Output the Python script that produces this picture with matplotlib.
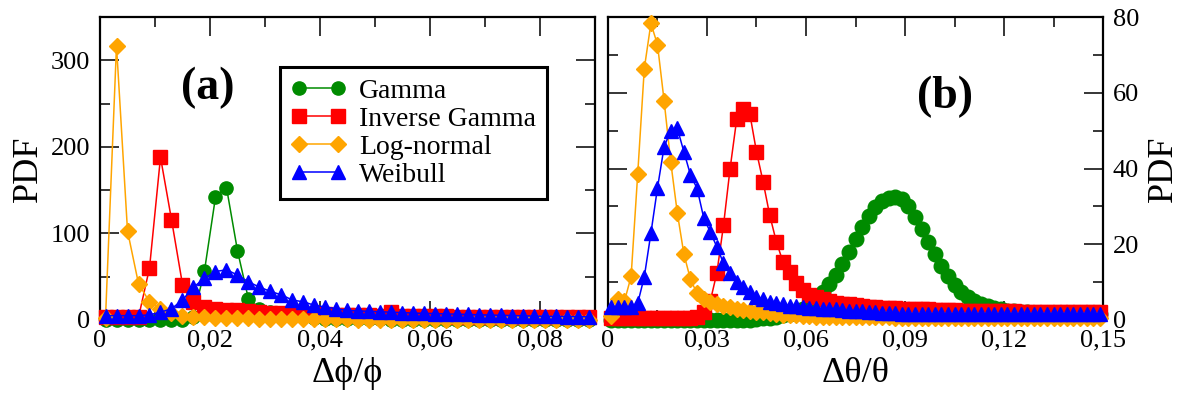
import numpy as np
import matplotlib
matplotlib.use('Agg')
import matplotlib.pyplot as plt
from matplotlib.ticker import MultipleLocator, FuncFormatter

plt.rcParams['font.family'] = ['Liberation Serif', 'DejaVu Serif']

# bin centres, bin width 0.002
x_a = np.round(np.arange(0.001, 0.090, 0.002), 4)   # 45 bins, panel (a)
x_b = np.round(np.arange(0.001, 0.150, 0.002), 4)   # 75 bins, panel (b)

labels = ['Gamma', 'Inverse Gamma', 'Log-normal', 'Weibull']

# panel (a): PDF of d(phi)/phi
gamma_a = [0, 0, 0, 0, 0, 0, 0, 0.5, 4, 57, 142, 153, 80, 24, 13, 9, 6, 4, 3, 2.2,
           1.6, 1.2, 1, 0.8, 0.7, 0.6, 0.5, 0.4, 0.4, 0.3, 0.3, 0.3, 0.2, 0.2, 0.2,
           0.2, 0.1, 0.1, 0.1, 0.1, 0.1, 0.1, 0.1, 0.1, 0.1]
invgamma_a = [3, 3, 3, 3, 60, 188, 116, 41, 21, 15, 13, 12, 11, 10, 9, 8.5, 8, 7.5, 7, 7,
              6.5, 6, 6, 5.5, 5.5, 5, 9, 5, 4.8, 4.6, 4.4, 4.2, 4, 4, 3.8, 3.7, 3.6,
              3.5, 3.4, 3.3, 3.2, 3.1, 3, 3, 3]
lognorm_a = [2, 317, 103, 42, 21, 13, 8, 5, 3.5, 3, 2.5, 2.2, 2, 1.8, 1.6, 1.4, 1.2, 1.1,
             1, 0.9, 0.8, 0.7, 0.6, 0.5, 0.5, 0.4, 0.4, 0.3, 0.3, 0.3, 0.2, 0.2, 0.2,
             0.2, 0.1, 0.1, 0.1, 0.1, 0.1, 0.1, 0.1, 0.1, 0.1, 0.1, 0.1]
weibull_a = [5, 5, 5, 5, 6, 9, 13, 23, 38, 48, 56, 58, 52, 44, 38, 33, 29, 23, 21, 17,
             15, 13, 11, 10.5, 10, 9.5, 9, 8.5, 8, 7.7, 7.4, 7, 6.7, 6.4, 6, 5.7, 5.4,
             5.1, 4.8, 4.5, 4.3, 4.1, 4, 3.8, 3.6]

# panel (b): PDF of d(theta)/theta
gamma_b = [0, 0, 0, 0, 0, 0, 0, 0, 0, 0, 0, 0, 0, 0, 0, 0, 0, 0, 0, 0,
           0, 0, 0.2, 0.4, 0.6, 0.9, 1.2, 1.6, 2.1, 2.8, 3.8, 5.5, 7.3, 9.5, 12,
           14.8, 18, 21.3, 24.5, 27.5, 29.8, 31.3, 32.3, 32.6, 32, 30, 27.3, 24, 20.5, 17.3,
           14.3, 11.6, 9.3, 7.5, 6.1, 5, 4.2, 3.6, 3.1, 2.8, 2.5, 2.3, 2.1, 2, 1.9,
           1.8, 1.8, 1.7, 1.7, 1.6, 1.6, 1.6, 1.5, 1.7, 1.5]
invgamma_b = [0.5, 0.5, 0.5, 0.5, 0.5, 0.5, 0.5, 0.5, 0.5, 0.5, 0.5, 0.5, 0.6, 0.8, 2,
              5, 12.5, 25, 40, 53, 55.6, 54.3, 44.4, 36.5, 27.7, 20.7, 15.4, 12.7, 9.7, 7.9,
              6.6, 6, 5.5, 5, 4.6, 4.3, 4.1, 3.9, 3.7, 3.5, 3.4, 3.3, 3.2, 3.1, 3,
              2.9, 2.9, 2.8, 2.8, 2.7, 2.7, 2.6, 2.6, 2.5, 2.5, 2.5, 2.4, 2.4, 2.4, 2.3,
              2.3, 2.3, 2.2, 2.2, 2.2, 2.2, 2.1, 2.1, 2.1, 2.1, 2, 2, 2, 2, 2]
lognorm_b = [1, 5.5, 5, 11.5, 38.5, 66.4, 78.3, 72.7, 57.9, 41.8, 28.3, 17.4, 10.7, 7, 5.5,
             4.8, 4.2, 3.8, 3.4, 3, 2.7, 2.4, 2.2, 2, 1.8, 1.6, 1.4, 1.3, 1.2, 1.1,
             1, 0.9, 0.9, 0.9, 0.8, 0.8, 0.8, 0.8, 0.7, 0.7, 0.7, 0.7, 0.7, 0.6, 0.6,
             0.6, 0.6, 0.6, 0.6, 0.6, 0.6, 0.5, 0.5, 0.5, 0.5, 0.5, 0.5, 0.5, 0.5, 0.5,
             0.5, 0.5, 0.5, 0.5, 0.5, 0.5, 0.5, 0.5, 0.5, 0.5, 0.5, 0.5, 0.5, 0.5, 0.5]
weibull_b = [3.5, 3.5, 3.5, 3.5, 4.4, 11.4, 22.9, 34.9, 45.7, 50, 50.6, 44.4, 38.3, 34.7, 27,
             23.2, 19.3, 15, 12.5, 10.1, 8.8, 7.5, 6.1, 5.5, 4.8, 4.4, 4.1, 3.8, 3.6, 3.4,
             3.3, 3.1, 3, 2.9, 2.8, 2.6, 2.5, 2.4, 2.3, 2.2, 2, 1.9, 1.8, 1.8, 1.7,
             1.6, 1.6, 1.6, 1.6, 1.5, 1.5, 1.5, 1.5, 1.5, 1.5, 1.5, 1.5, 1.5, 1.5, 1.5,
             1.5, 1.5, 1.5, 1.5, 1.5, 1.5, 1.5, 1.5, 1.5, 1.5, 1.5, 1.5, 1.5, 1.5, 1.5]

colors = ['#008b00', '#ff0000', '#ffa500', '#0000ff']
markers = ['o', 's', 'D', '^']


def comma_fmt(v, pos):
    if abs(v) < 1e-9:
        return '0'
    return f'{v:.2f}'.replace('.', ',')


fig = plt.figure(figsize=(11.81, 3.94), dpi=100)
ax1 = fig.add_axes([100 / 1181, 74 / 394, 495 / 1181, 303 / 394])
ax2 = fig.add_axes([608 / 1181, 74 / 394, 495 / 1181, 303 / 394])

sizes_a = [9.5, 9.5, 8.5, 9.5]
sizes_b = [10.5, 10.5, 8.5, 10.5]
for y, c, m, s, lab in zip([gamma_a, invgamma_a, lognorm_a, weibull_a], colors, markers, sizes_a, labels):
    ax1.plot(x_a, y, color=c, marker=m, ms=s, mec=c, lw=1.1, label=lab, clip_on=False, zorder=3)
for y, c, m, s in zip([gamma_b, invgamma_b, lognorm_b, weibull_b], colors, markers, sizes_b):
    ax2.plot(x_b, y, color=c, marker=m, ms=s, mec=c, lw=1.1, clip_on=False, zorder=3)

ax1.set_xlim(0, 0.09)
ax1.set_ylim(0, 350)
ax1.xaxis.set_major_locator(MultipleLocator(0.02))
ax1.xaxis.set_minor_locator(MultipleLocator(0.01))
ax1.yaxis.set_major_locator(MultipleLocator(100))
ax1.yaxis.set_minor_locator(MultipleLocator(50))

ax2.set_xlim(0, 0.15)
ax2.set_ylim(0, 80)
ax2.xaxis.set_major_locator(MultipleLocator(0.03))
ax2.xaxis.set_minor_locator(MultipleLocator(0.015))
ax2.yaxis.set_major_locator(MultipleLocator(20))
ax2.yaxis.set_minor_locator(MultipleLocator(10))

for ax in (ax1, ax2):
    ax.xaxis.set_major_formatter(FuncFormatter(comma_fmt))
    ax.tick_params(which='both', direction='in', top=True, right=True, left=True,
                   width=1.1, labelsize=19, pad=7)
    ax.tick_params(which='major', length=14)
    ax.tick_params(which='minor', length=7)
    for sp in ax.spines.values():
        sp.set_linewidth(1.6)

ax2.tick_params(axis='y', which='both', labelleft=False, labelright=True)
ax2.yaxis.set_label_position('right')

ax1.set_xlabel('Δϕ/ϕ', fontsize=26, labelpad=4)
ax2.set_xlabel('Δθ/θ', fontsize=26, labelpad=4)
ax1.set_ylabel('PDF', fontsize=26, labelpad=4)
ax2.set_ylabel('PDF', fontsize=26, labelpad=6)

ax1.text(0.218, 0.766, '(a)', transform=ax1.transAxes, fontsize=33, fontweight='bold',
         ha='center', va='center')
ax2.text(0.681, 0.736, '(b)', transform=ax2.transAxes, fontsize=33, fontweight='bold',
         ha='center', va='center')

leg = ax1.legend(loc='upper left', bbox_to_anchor=(280 / 1181, 327 / 394),
                 bbox_transform=fig.transFigure, borderaxespad=0, fontsize=20,
                 fancybox=False, edgecolor='black', framealpha=1, numpoints=2,
                 handlelength=2.0, handletextpad=0.45, labelspacing=0.1, borderpad=0.4)
leg.get_frame().set_linewidth(2.2)
leg.set_zorder(5)

fig.savefig('out.png', dpi=100)
